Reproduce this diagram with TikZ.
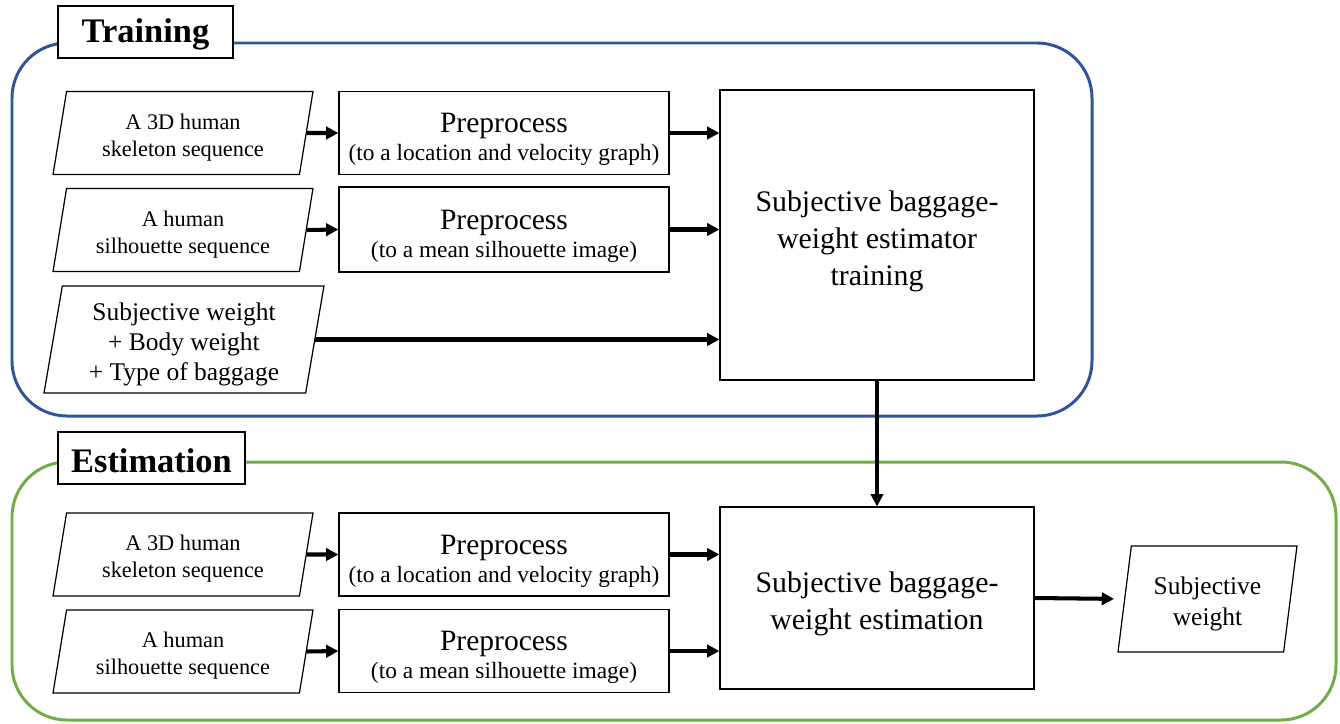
\documentclass[tikz,border=0pt]{standalone}
\usepackage{fontspec}
\setmainfont{Liberation Serif}
\usetikzlibrary{arrows.meta}
\usetikzlibrary{shapes.geometric}
\usetikzlibrary{positioning}
\tikzset{lowtext/.style = {execute at begin node = {\rule{0pt}{#1}}}}
\tikzset{data/.style = {draw, trapezium, trapezium left angle = 76.5,
                        trapezium right angle = 103.5, trapezium stretches body,
                        line width = 0.7pt, align = flush center, inner sep = 0,
                        text width = 4.6cm, minimum width = 5.2cm, minimum height = 1.66cm,
                        font = \fontsize{12.7}{15.4}\selectfont, lowtext = 1.1em}}
\tikzset{proc/.style = {draw, rectangle, line width = 0.7pt, align = flush center,
                        inner xsep = 0, text width = 6.5cm,
                        minimum width = 6.6cm, minimum height = 1.66cm,
                        font = \fontsize{13.3}{16}\selectfont, lowtext = 1.4em}}
\tikzset{big/.style = {draw, rectangle, line width = 0.7pt, align = flush center,
                       text width = 6cm, minimum width = 6.28cm,
                       font = \fontsize{17}{21}\selectfont, lowtext = 1.1em}}
\tikzset{heading/.style = {draw, fill = white, line width = 0.7pt,
                           minimum height = 1.04cm, lowtext = 0.85em,
                           font = \fontsize{19.6}{22}\selectfont\bfseries}}
\tikzset{flow/.style = {line width = 2.3pt, -{Triangle[length = 7pt, width = 7pt]}}}
\tikzset{panel/.style = {line width = 1.7pt, rounded corners = 1.1cm}}
\definecolor{tblue}{RGB}{47, 85, 151}
\definecolor{egreen}{RGB}{112, 173, 71}
\newcommand{\prep}[1]{{\fontsize{16.8}{16}\selectfont Preprocess}\\#1}

\begin{document}
\begin{tikzpicture}[x = 0.02cm, y = -0.02cm]
    \useasboundingbox (0, 0) rectangle (1340, 724);
    \draw [panel, tblue] (12, 43) rectangle (1092, 416);
    \draw [panel, egreen] (12, 462) rectangle (1336, 720);
    \node [heading, minimum width = 3.5cm] (train) at (145.5, 32) {Training};
    \node [heading, minimum width = 3.74cm] (estim) at (151.5, 458) {Estimation};

    % training
    \node [data] (sk1) at (183, 133) {A 3D human\\skeleton sequence};
    \node [data] (sil1) at (183, 230) {A human\\silhouette sequence};
    \node [data, trapezium left angle = 78.9, trapezium right angle = 101.1,
           minimum width = 5.6cm, minimum height = 2.14cm,
           font = \fontsize{14.5}{17}\selectfont] (sw) at (184, 339.5)
          {Subjective weight\\+ Body weight\\+ Type of baggage};
    \node [proc] (pp1) at (504, 133) {\prep{(to a location and velocity graph)}};
    \node [proc, minimum height = 1.7cm] (pp2) at (504, 229.5) {\prep{(to a mean silhouette image)}};
    \node [big, minimum height = 5.8cm] (trn) at (877, 235)
          {Subjective baggage-\\weight estimator\\training};

    % estimation
    \node [data] (sk2) at (183, 554.5) {A 3D human\\skeleton sequence};
    \node [data] (sil2) at (183, 651.5) {A human\\silhouette sequence};
    \node [proc] (pp3) at (504, 554.5) {\prep{(to a location and velocity graph)}};
    \node [proc] (pp4) at (504, 651) {\prep{(to a mean silhouette image)}};
    \node [big, minimum height = 3.64cm] (est) at (877, 598)
          {Subjective baggage-\\weight estimation};
    \node [data, trapezium left angle = 78.3, trapezium right angle = 101.7,
           text width = 3cm, minimum width = 3.58cm, minimum height = 2.12cm,
           font = \fontsize{14.5}{17.6}\selectfont] (out) at (1207.5, 599)
          {Subjective\\weight};

    \draw [flow] (sk1.east) -- (pp1.west);
    \draw [flow] (sil1.east) -- (pp2.west);
    \draw [flow] (pp1.east) -- (pp1.east -| trn.west);
    \draw [flow] (pp2.east) -- (pp2.east -| trn.west);
    \draw [flow] (sw.east) -- (sw.east -| trn.west);
    \draw [flow] (trn.south) -- (est.north);
    \draw [flow] (sk2.east) -- (pp3.west);
    \draw [flow] (sil2.east) -- (pp4.west);
    \draw [flow] (pp3.east) -- (pp3.east -| est.west);
    \draw [flow] (pp4.east) -- (pp4.east -| est.west);
    \draw [flow, shorten > = 0.2cm] (est.east) -- (out.west);
  \end{tikzpicture}
\end{document}
